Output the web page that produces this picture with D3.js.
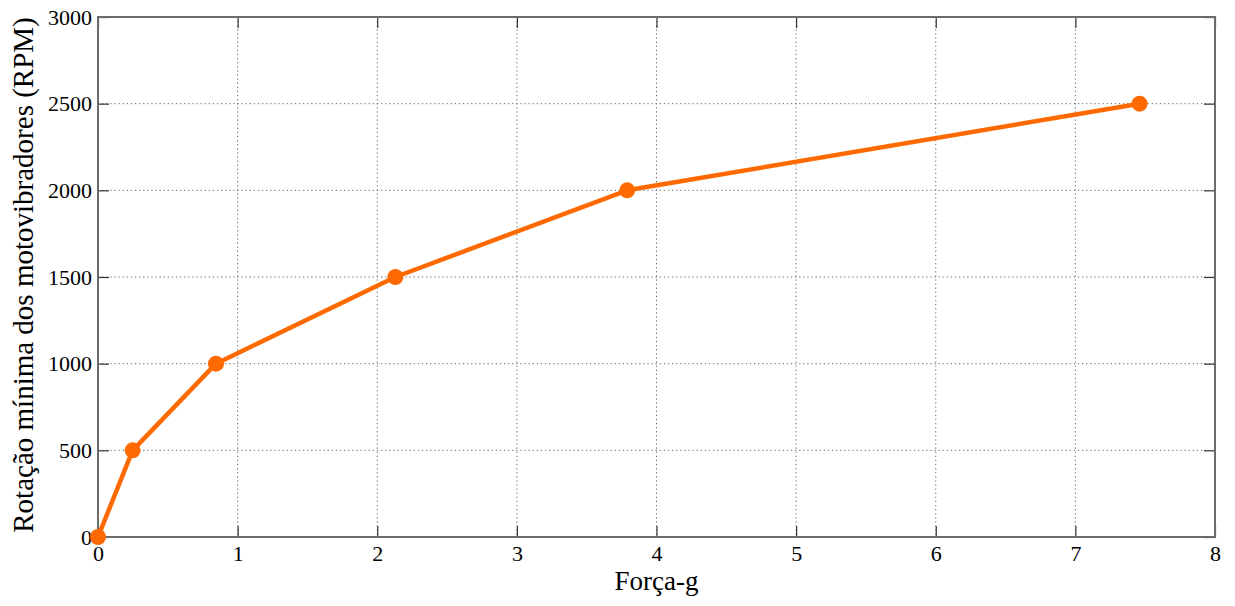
<!DOCTYPE html>
<html>
<head>
<meta charset="utf-8">
<script src="https://cdn.jsdelivr.net/npm/d3@7"></script>
<style>
  body { margin: 0; background: #fff; }
  text { font-family: "Liberation Serif", "Times New Roman", serif; fill: #000; }
</style>
</head>
<body>
<svg id="chart" width="1235" height="606"></svg>
<script>
// Minimum motor-vibrator rotation vs g-force
const forceG = [0, 0.248, 0.845, 2.13, 3.79, 7.46];
const rpm = [0, 500, 1000, 1500, 2000, 2500];
const xTicks = [0, 1, 2, 3, 4, 5, 6, 7, 8];
const yTicks = [0, 500, 1000, 1500, 2000, 2500, 3000];

const svg = d3.select("#chart");
const m = { left: 98, top: 17, right: 1215, bottom: 537 };

const x = d3.scaleLinear().domain([0, 8]).range([m.left, m.right]);
const y = d3.scaleLinear().domain([0, 3000]).range([m.bottom, m.top]);

const axisColor = "#6b6b6b";
const tickLen = 11;

// dotted grid
const grid = svg.append("g");
grid.selectAll(".gx").data(xTicks.slice(1, -1)).join("line")
  .attr("x1", d => x(d)).attr("x2", d => x(d))
  .attr("y1", m.top).attr("y2", m.bottom)
  .attr("stroke", "#6f6f6f").attr("stroke-width", 1)
  .attr("stroke-dasharray", "1.3,2.8");
grid.selectAll(".gy").data(yTicks.slice(1, -1)).join("line")
  .attr("y1", d => y(d)).attr("y2", d => y(d))
  .attr("x1", m.left).attr("x2", m.right)
  .attr("stroke", "#6f6f6f").attr("stroke-width", 1)
  .attr("stroke-dasharray", "1.3,2.8");

// axes with inward ticks on all four sides
const styleAxis = g => {
  g.selectAll(".domain").remove();
  g.selectAll(".tick line").attr("stroke", "#333").attr("stroke-width", 1.2);
  g.selectAll("text").style("font-size", "22px").style("font-family", '"Liberation Serif", serif');
};
svg.append("g").attr("transform", `translate(0,${m.bottom})`)
  .call(d3.axisBottom(x).tickValues(xTicks).tickFormat(d3.format("d")).tickSize(-tickLen).tickPadding(8))
  .call(styleAxis);
svg.append("g").attr("transform", `translate(0,${m.top})`)
  .call(d3.axisTop(x).tickValues(xTicks).tickFormat("").tickSize(-tickLen))
  .call(styleAxis);
svg.append("g").attr("transform", `translate(${m.left},0)`)
  .call(d3.axisLeft(y).tickValues(yTicks).tickFormat(d3.format("d")).tickSize(-tickLen).tickPadding(6))
  .call(styleAxis);
svg.append("g").attr("transform", `translate(${m.right},0)`)
  .call(d3.axisRight(y).tickValues(yTicks).tickFormat("").tickSize(-tickLen))
  .call(styleAxis);

// frame
svg.append("rect")
  .attr("x", m.left).attr("y", m.top)
  .attr("width", m.right - m.left).attr("height", m.bottom - m.top)
  .attr("fill", "none").attr("stroke", axisColor).attr("stroke-width", 2);

// series
const pts = forceG.map((v, i) => [v, rpm[i]]);
const orange = "#ff6a00";
svg.append("path").datum(pts)
  .attr("fill", "none").attr("stroke", orange).attr("stroke-width", 4.5)
  .attr("stroke-linejoin", "round")
  .attr("d", d3.line().x(d => x(d[0])).y(d => y(d[1])));
svg.append("g").selectAll("circle").data(pts).join("circle")
  .attr("cx", d => x(d[0])).attr("cy", d => y(d[1])).attr("r", 8)
  .attr("fill", orange);

// axis titles
svg.append("text")
  .attr("x", (m.left + m.right) / 2).attr("y", 590)
  .attr("text-anchor", "middle").style("font-size", "27px")
  .text("Força-g");
svg.append("text")
  .attr("transform", `translate(33,275) rotate(-90)`)
  .attr("text-anchor", "middle").style("font-size", "29px")
  .text("Rotação mínima dos motovibradores (RPM)");
</script>
</body>
</html>
